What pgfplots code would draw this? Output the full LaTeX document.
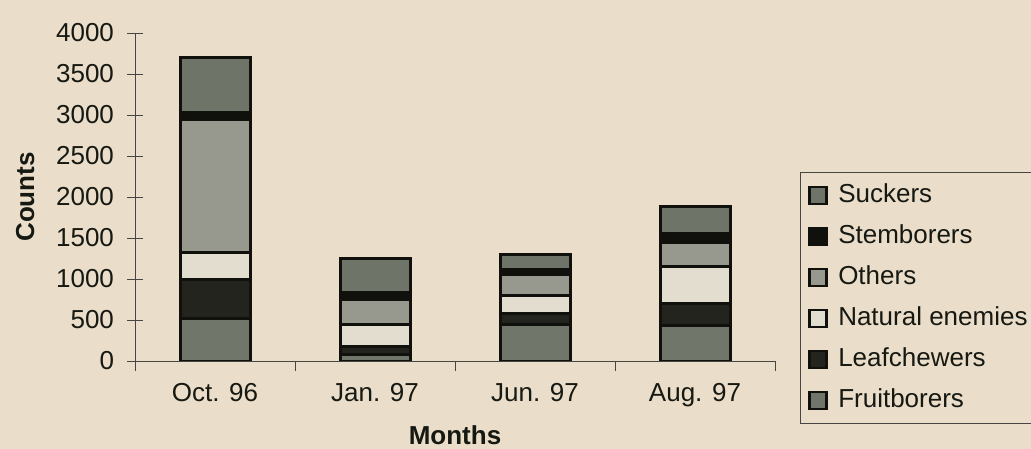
\documentclass[border=0pt]{standalone}
\usepackage{fontspec}
\setmainfont{Liberation Sans}
\usepackage{pgfplots}
\pgfplotsset{compat=1.18}
\definecolor{bg}{RGB}{234,221,201}
\definecolor{cfruit}{RGB}{112,118,106}
\definecolor{cleaf}{RGB}{36,36,30}
\definecolor{cnat}{RGB}{226,221,206}
\definecolor{cother}{RGB}{152,153,142}
\definecolor{cstem}{RGB}{16,16,12}
\definecolor{csuck}{RGB}{110,116,104}
\definecolor{txt}{RGB}{22,24,18}
\begin{document}
\begin{tikzpicture}
\path[use as bounding box, fill=bg] (0,0) rectangle (515.5bp,224.5bp);
\begin{axis}[
  at={(67.5bp,44bp)}, anchor=south west,
  scale only axis, width=320bp, height=164bp,
  ybar stacked, bar width=35bp,
  xmin=-0.5, xmax=3.5, ymin=0, ymax=4000,
  axis x line*=bottom, axis y line*=left,
  axis line style={line width=0.5bp, draw=txt!80},
  xtick={0,1,2,3},
  xticklabels={Oct. 96, Jan. 97, Jun. 97, Aug. 97},
  minor xtick={-0.5,0.5,1.5,2.5,3.5},
  major x tick style={draw=none},
  minor tick length=5bp,
  minor x tick style={yshift=-2.5bp, line width=0.5bp, draw=txt!80},
  ytick={0,500,...,4000},
  tick align=center,
  major tick length=8bp,
  major y tick style={line width=0.5bp, draw=txt!80},
  font=\fontsize{13bp}{15bp}\selectfont,
  /pgf/number format/assume math mode=true,
  /pgf/number format/set thousands separator={},
  ticklabel style={font=\fontsize{13bp}{15bp}\selectfont, text=txt},
  yticklabel style={xshift=-3bp},
  xticklabel style={yshift=-3.5bp},
  ylabel={\textbf{Counts}}, ylabel style={text=txt, yshift=4bp},
  xlabel={\textbf{Months}}, xlabel style={text=txt, yshift=-2.5bp},
  reverse legend,
  legend style={at={(rel axis cs:1.039,0.576)}, anchor=north west,
    draw=txt!80, line width=0.5bp, fill=none, text=txt,
    font=\fontsize{13bp}{15bp}\selectfont,
    row sep=7.5bp, inner xsep=4bp, inner ysep=5bp,
    nodes={inner sep=0pt, text height=10bp, text depth=3bp, anchor=west},
    /tikz/every odd column/.append style={column sep=5bp}},
  legend cell align=left,
  legend image code/.code={\draw[#1, draw=cstem, line width=1.4bp] (0bp,-4.25bp) rectangle (8.5bp,4.25bp);},
  every axis plot/.append style={draw=cstem, line width=1.5bp},
]
\addplot[fill=cfruit] coordinates {(0,520) (1,80) (2,450) (3,430)};
\addplot[fill=cleaf] coordinates {(0,470) (1,100) (2,130) (3,270)};
\addplot[fill=cnat] coordinates {(0,330) (1,270) (2,220) (3,450)};
\addplot[fill=cother] coordinates {(0,1620) (1,300) (2,250) (3,300)};
\addplot[fill=cstem] coordinates {(0,90) (1,90) (2,60) (3,110)};
\addplot[fill=csuck] coordinates {(0,670) (1,410) (2,190) (3,320)};
\legend{Fruitborers, Leafchewers, Natural enemies, Others, Stemborers, Suckers}
\end{axis}
\end{tikzpicture}
\end{document}
